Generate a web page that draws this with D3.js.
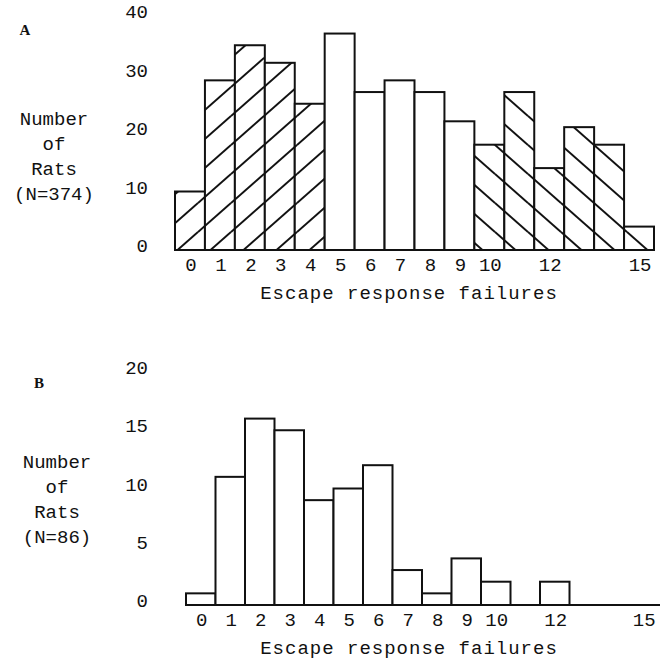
<!DOCTYPE html>
<html>
<head>
<meta charset="utf-8">
<script src="https://cdn.jsdelivr.net/npm/d3@7/dist/d3.min.js"></script>
<style>
  body { margin: 0; background: #fff; }
  svg text { font-family: "Liberation Mono", "DejaVu Sans Mono", monospace; fill: #111; }
</style>
</head>
<body>
<div id="chart"></div>
<script>
// escape response failures histogram, two panels

var failures = d3.range(0, 16);
var tick_labels = [0, 1, 2, 3, 4, 5, 6, 7, 8, 9, 10, 12, 15];

// panel A (N=374)
var counts_a = [10, 29, 35, 32, 25, 37, 27, 29, 27, 22, 18, 27, 14, 21, 18, 4];
var hatch_a = ['fwd', 'fwd', 'fwd', 'fwd', 'fwd', 'none', 'none', 'none', 'none', 'none',
               'back', 'back', 'back', 'back', 'back', 'back'];
var y_ticks_a = [0, 10, 20, 30, 40];

// panel B (N=86)
var counts_b = [1, 11, 16, 15, 9, 10, 12, 3, 1, 4, 2, 0, 2, 0, 0, 0];
var y_ticks_b = [0, 5, 10, 15, 20];

var svg_size = {'width': 663, 'height': 666};

var svg = d3.select('#chart')
    .append('svg')
    .attr('width', svg_size.width)
    .attr('height', svg_size.height);

// hatch patterns
var defs = svg.append('defs');
function add_hatch(id, forward){
    var w = 33, h = 29;
    var p = defs.append('pattern')
        .attr('id', id)
        .attr('patternUnits', 'userSpaceOnUse')
        .attr('width', w)
        .attr('height', h);
    p.append('rect').attr('width', w).attr('height', h).style('fill', '#fff');
    var segs = forward
        ? [[-w, h, 0, 0], [0, h, w, 0], [w, h, 2*w, 0], [0, 2*h, w, h], [0, 0, w, -h]]
        : [[-w, 0, 0, h], [0, 0, w, h], [w, 0, 2*w, h], [0, -h, w, 0], [0, h, w, 2*h]];
    segs.forEach(function(s){
        p.append('line')
            .attr('x1', s[0]).attr('y1', s[1])
            .attr('x2', s[2]).attr('y2', s[3])
            .style('stroke', '#111')
            .style('stroke-width', 2);
    });
}
add_hatch('hatch-fwd', true);
add_hatch('hatch-back', false);

function draw_panel(opt){
    var x_scale = d3.scaleBand()
        .domain(failures)
        .range([opt.x0, opt.x1])
        .padding(0);

    var y_scale = d3.scaleLinear()
        .domain([0, opt.y_max])
        .range([opt.base, opt.top]);

    var g = svg.append('g');

    var bar_data = failures.map(function(f, i){
        return {f: f, v: opt.counts[i], h: opt.hatch ? opt.hatch[i] : 'none'};
    });

    // bars
    g.selectAll('.bar')
        .data(bar_data.filter(function(d){ return d.v > 0; }))
        .enter()
        .append('rect')
        .classed('bar', true)
        .attr('x', function(d){ return x_scale(d.f); })
        .attr('y', function(d){ return y_scale(d.v); })
        .attr('width', x_scale.bandwidth())
        .attr('height', function(d){ return y_scale(0) - y_scale(d.v); })
        .style('fill', function(d){
            if (d.h == 'fwd') return 'url(#hatch-fwd)';
            if (d.h == 'back') return 'url(#hatch-back)';
            return '#fff';
        })
        .style('stroke', '#111')
        .style('stroke-width', 2);

    // baseline
    g.append('line')
        .attr('x1', opt.x0)
        .attr('x2', opt.base_end)
        .attr('y1', y_scale(0))
        .attr('y2', y_scale(0))
        .style('stroke', '#111')
        .style('stroke-width', 2.2);

    // y tick labels
    g.selectAll('.y-label')
        .data(opt.y_ticks)
        .enter()
        .append('text')
        .attr('x', 148)
        .attr('y', function(d){ return y_scale(d) - 3; })
        .attr('text-anchor', 'end')
        .attr('dominant-baseline', 'central')
        .style('font-size', '19px')
        .text(function(d){ return d; });

    // x tick labels
    g.selectAll('.x-label')
        .data(tick_labels)
        .enter()
        .append('text')
        .attr('x', function(d){ return x_scale(d) + x_scale.bandwidth()/2 + 1; })
        .attr('y', opt.base + 16)
        .attr('text-anchor', 'middle')
        .attr('dominant-baseline', 'central')
        .style('font-size', '19px')
        .text(function(d){ return d; });

    g.append('text')
        .attr('x', 409)
        .attr('y', opt.base + 44)
        .attr('text-anchor', 'middle')
        .attr('dominant-baseline', 'central')
        .style('font-size', '19px')
        .style('letter-spacing', '1px')
        .text('Escape response failures');

    // panel letter
    g.append('text')
        .attr('x', opt.letter_x)
        .attr('y', opt.letter_y)
        .attr('text-anchor', 'middle')
        .attr('dominant-baseline', 'central')
        .style('font-family', '"Liberation Serif", serif')
        .style('font-weight', 'bold')
        .style('font-size', '15px')
        .text(opt.letter);

    // y title
    g.selectAll('.y-title')
        .data(opt.y_title)
        .enter()
        .append('text')
        .attr('x', opt.title_x)
        .attr('y', function(d, i){ return opt.title_y + 25*i; })
        .attr('text-anchor', 'middle')
        .attr('dominant-baseline', 'central')
        .style('font-size', '19px')
        .text(function(d){ return d; });
}

draw_panel({
    counts: counts_a, hatch: hatch_a, y_ticks: y_ticks_a, y_max: 40,
    x0: 175, x1: 654, base_end: 654, base: 250, top: 16,
    letter: 'A', letter_x: 25, letter_y: 30,
    y_title: ['Number', 'of', 'Rats', '(N=374)'], title_x: 54, title_y: 120
});

draw_panel({
    counts: counts_b, hatch: null, y_ticks: y_ticks_b, y_max: 20,
    x0: 186, x1: 658, base_end: 660, base: 605, top: 372,
    letter: 'B', letter_x: 39, letter_y: 383,
    y_title: ['Number', 'of', 'Rats', '(N=86)'], title_x: 57, title_y: 463
});
</script>
</body>
</html>
